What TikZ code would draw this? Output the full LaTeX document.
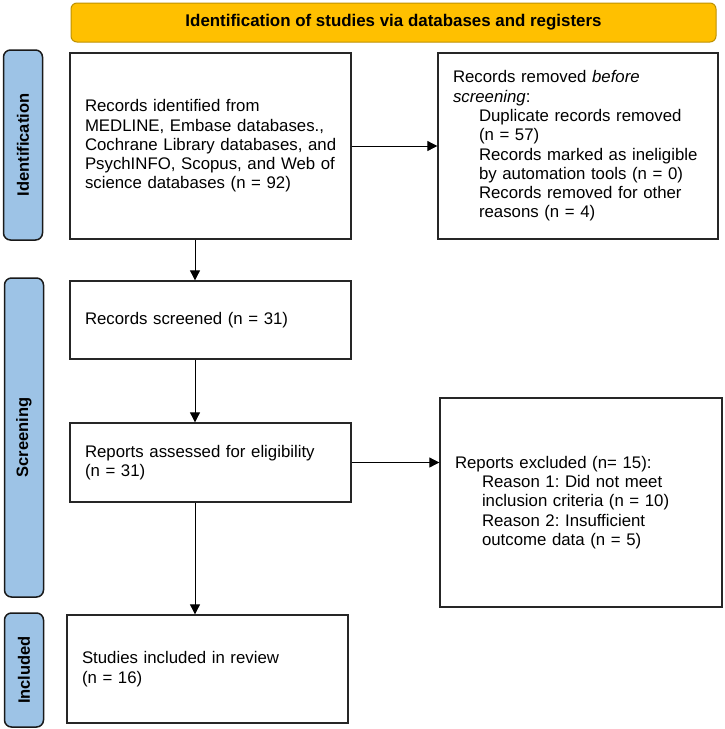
\documentclass[tikz,border=0pt]{standalone}
\usepackage{fontspec}
\setmainfont{Liberation Sans}
\usetikzlibrary{arrows.meta}
\frenchspacing
\definecolor{bannergold}{RGB}{255,192,0}
\definecolor{bannerline}{RGB}{190,145,0}
\definecolor{phaseblue}{RGB}{157,195,230}
\newcommand{\ind}{\hspace*{26pt}}
\tikzset{
  box/.style={draw=black!85,line width=1.3pt,fill=white,align=left,inner xsep=15pt,inner ysep=0pt,font=\fontsize{16.8}{19.3}\selectfont},
  phase/.style={draw=black!90,line width=1.5pt,fill=phaseblue,rounded corners=7pt,rotate=90,minimum height=39pt,inner sep=0pt,font=\bfseries\fontsize{16.5}{19.3}\selectfont},
  banner/.style={draw=bannerline,line width=1pt,fill=bannergold,rounded corners=6pt,minimum width=645pt,minimum height=39pt,font=\bfseries\fontsize{16.9}{19.3}\selectfont},
  arr/.style={-{Triangle[length=10pt,width=10pt]},line width=0.8pt},
}
\begin{document}
\begin{tikzpicture}[x=1pt,y=-1pt]
    \useasboundingbox (0,0) rectangle (724,729);
    % header and phase bars
    \node[banner] (banner) at (393.5,22.5) {Identification of studies via databases and registers};
    \node[phase,minimum width=190pt] (idphase) at (23,145) {Identification};
    \node[phase,minimum width=319pt] (scrphase) at (24,437.5) {Screening};
    \node[phase,minimum width=114pt] (incphase) at (24,670) {Included};
    % boxes
    \node[box,text width=251pt,minimum height=186pt] (idrec) at (210.5,146) {Records identified from\\MEDLINE, Embase databases.,\\\mbox{Cochrane Library databases, and}\\PsychINFO, Scopus, and Web of\\science databases (n = 92)};
    \node[box,text width=250pt,minimum height=186pt] (removed) at (578,146) {Records removed \textit{before}\\\textit{screening}:\\\ind Duplicate records removed\\\ind (n = 57)\\\ind Records marked as ineligible\\\ind by automation tools (n = 0)\\\ind Records removed for other\\\ind reasons (n = 4)};
    \node[box,text width=251pt,minimum height=78pt] (screened) at (210.5,320) {Records screened (n = 31)};
    \node[box,text width=251pt,minimum height=79pt] (assessed) at (210.5,462.5) {Reports assessed for eligibility\\(n = 31)};
    \node[box,text width=252pt,minimum height=209pt] (excluded) at (581,502.5) {Reports excluded (n= 15):\\\hspace*{27pt}Reason 1: Did not meet\\\hspace*{27pt}inclusion criteria (n = 10)\\\hspace*{27pt}Reason 2: Insufficient\\\hspace*{27pt}outcome data (n = 5)};
    \node[box,text width=251pt,minimum height=108pt] (included) at (207.5,669) {Studies included in review\\(n = 16)};
    % arrows
    \coordinate (col) at (195,0);
    \draw[arr] (idrec.east) -- (removed.west);
    \draw[arr] (idrec.south -| col) -- (screened.north -| col);
    \draw[arr] (screened.south -| col) -- (assessed.north -| col);
    \draw[arr] (assessed.east) -- (assessed.east -| excluded.west);
    \draw[arr] (assessed.south -| col) -- (included.north -| col);
\end{tikzpicture}
\end{document}
